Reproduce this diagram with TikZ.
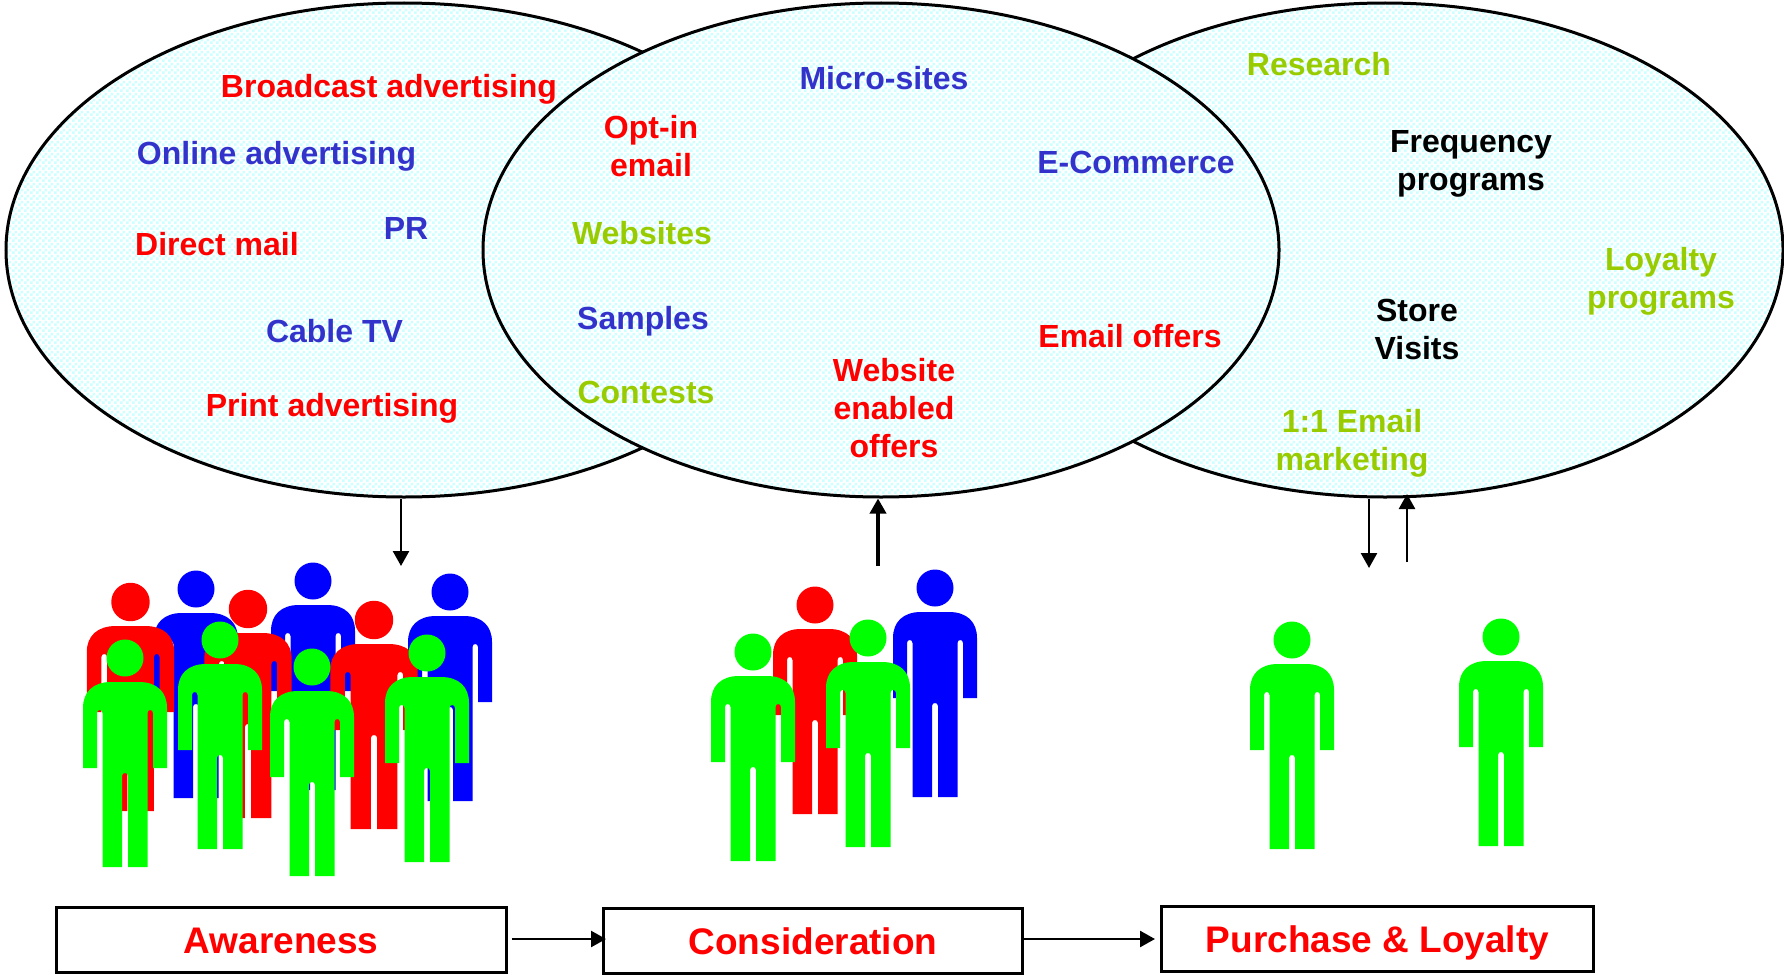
\documentclass[tikz,border=0pt]{standalone}
\usepackage{fontspec}
\setmainfont{Liberation Sans}
\usepackage{xcolor}
\usetikzlibrary{arrows.meta,patterns,shapes.geometric}
\definecolor{labelblue}{HTML}{3333CC}
\definecolor{labelgreen}{HTML}{99CC00}
\definecolor{paleaqua}{HTML}{CCFFFF}
\definecolor{figgreen}{HTML}{00FF00}
\pgfdeclarepatternformonly{paledither}{\pgfqpoint{0pt}{0pt}}{\pgfqpoint{6pt}{6pt}}{\pgfqpoint{6pt}{6pt}}{%
  \pgfpathrectangle{\pgfqpoint{0pt}{0pt}}{\pgfqpoint{3pt}{3pt}}%
  \pgfpathrectangle{\pgfqpoint{3pt}{3pt}}{\pgfqpoint{3pt}{3pt}}%
  \pgfusepath{fill}}
\newcommand*{\person}[4][1]{%
  \node [ head, fill = #4, minimum size = 37pt*#1 ] (#2) at (#3) {};
  \fill [#4, shift = {(#3)}, xscale = #1]
    (-14,24) -- (14,24) .. controls (32,24) and (42,34) .. (42,50)
    -- (42,110) -- (28,110) -- (28,55) .. controls (28,51) and (22.5,51) .. (22.5,55)
    -- (22.5,209) -- (3,209) -- (3,118) .. controls (3,114) and (-3,114) .. (-3,118)
    -- (-3,209) -- (-22.5,209) -- (-22.5,55) .. controls (-22.5,51) and (-28,51) .. (-28,55)
    -- (-28,110) -- (-42,110) -- (-42,50) .. controls (-42,34) and (-32,24) .. (-14,24) -- cycle;
}
\begin{document}
\begin{tikzpicture}[x=1pt,y=-1pt,
    every node/.style = {font=\fontsize{32}{38}\selectfont\bfseries,align=center},
    stagecircle/.style = {ellipse,draw=black,line width=3pt,preaction={fill=white},pattern=paledither,
      pattern color=paleaqua,inner sep=0pt,minimum width=796pt,minimum height=494pt},
    stagebox/.style = {rectangle,draw=black,line width=3pt,fill=white,text=red,inner sep=0pt,
      minimum height=65pt,text height=28pt,text depth=0pt,font=\fontsize{37}{44}\selectfont\bfseries},
    head/.style = {circle,inner sep=0pt},
    flow/.style = {-{Triangle[length=15pt,width=16pt]},line width=2.5pt},
    redlabel/.style = {text=red},
    bluelabel/.style = {text=labelblue},
    greenlabel/.style = {text=labelgreen},
    blacklabel/.style = {text=black},
  ]
  \useasboundingbox (0,0) rectangle (1784,974);
  \node[stagecircle] (awareCircle) at (404,250) {};
  \node[stagecircle] (loyalCircle) at (1385,250) {};
  \node[stagecircle] (considerCircle) at (881,250) {};

  \node[redlabel] (broadcast) at (389,89.5) {Broadcast advertising};
  \node[bluelabel] (online) at (276.5,156) {Online advertising};
  \node[redlabel] (directMail) at (217,244) {Direct mail};
  \node[bluelabel] (pr) at (406,228) {PR};
  \node[bluelabel] (cable) at (334.5,331) {Cable TV};
  \node[redlabel] (print) at (332,408.5) {Print advertising};

  \node[redlabel] (optIn) at (651,146) {Opt-in\\email};
  \node[bluelabel] (microSites) at (884,78) {Micro-sites};
  \node[bluelabel] (eCommerce) at (1136,162) {E-Commerce};
  \node[greenlabel] (websites) at (642,233) {Websites};
  \node[bluelabel] (samples) at (643,321) {Samples};
  \node[greenlabel] (contests) at (646,392.5) {Contests};
  \node[redlabel] (websiteOffers) at (894,408) {Website\\enabled\\offers};
  \node[redlabel] (emailOffers) at (1130,336) {Email offers};

  \node[greenlabel] (research) at (1319,64) {Research};
  \node[blacklabel] (frequency) at (1471,163.5) {Frequency\\programs};
  \node[greenlabel] (loyalty) at (1661,281) {Loyalty\\programs};
  \node[blacklabel] (storeVisits) at (1417,329) {Store\\Visits};
  \node[greenlabel] (oneToOne) at (1352,443) {1:1 Email\\marketing};

  \person{aBlueA}{196,589}{blue}
  \person{aBlueB}{313,581}{blue}
  \person{aBlueC}{450,592}{blue}
  \person[1.04]{aRedA}{130.5,602}{red}
  \person[1.04]{aRedB}{248,609}{red}
  \person[1.04]{aRedC}{374,620}{red}
  \person{aGreenA}{125,658}{figgreen}
  \person{aGreenB}{220,640}{figgreen}
  \person{aGreenC}{312,667}{figgreen}
  \person{aGreenD}{427,653}{figgreen}

  \person{cBlue}{935,588}{blue}
  \person{cRed}{815,605}{red}
  \person{cGreenA}{753,652}{figgreen}
  \person{cGreenB}{868,638}{figgreen}

  \person{pGreenA}{1292,640}{figgreen}
  \person{pGreenB}{1501,637}{figgreen}

  \node[stagebox,minimum width=450pt] (awareness) at (281,939.5) {Awareness};
  \node[stagebox,minimum width=419pt] (consideration) at (813,940.5) {Consideration};
  \node[stagebox,minimum width=432pt] (purchase) at (1377.5,938.5) {Purchase \& Loyalty};

  \coordinate (awareEnd) at (401,566);
  \coordinate (considerStart) at (878,566);
  \coordinate (loyalDownEnd) at (1369,568);
  \coordinate (loyalUpStart) at (1407,562);
  \coordinate (loyalUpEnd) at (1407,494);
  \coordinate (stageLine) at (0,939);
  \draw[flow] (awareEnd |- awareCircle.south) -- (awareEnd);
  \draw[flow,line width=3.5pt] (considerStart) -- (considerStart |- considerCircle.south);
  \draw[flow] (loyalDownEnd |- loyalCircle.south) -- (loyalDownEnd);
  \draw[flow] (loyalUpStart) -- (loyalUpEnd);
  \draw[flow] ([xshift=4pt]awareness.east |- stageLine) -- ([xshift=4pt]consideration.west |- stageLine);
  \draw[flow] (consideration.east |- stageLine) -- ([xshift=-5pt]purchase.west |- stageLine);
\end{tikzpicture}
\end{document}
